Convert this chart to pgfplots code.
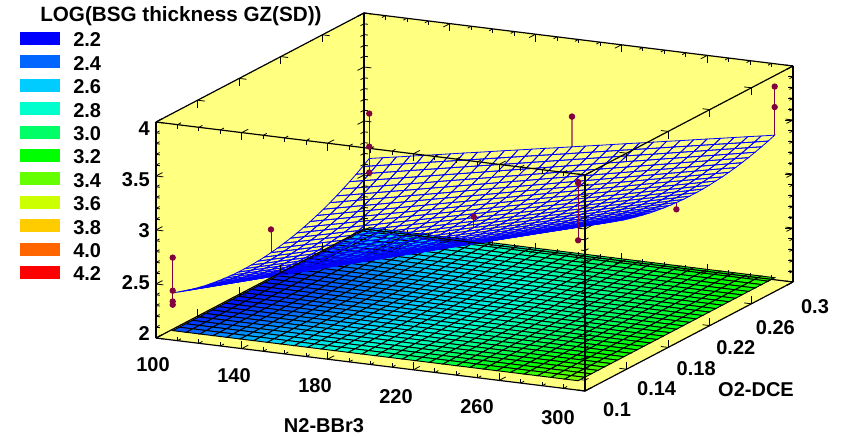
\documentclass[border=0pt]{standalone}
\usepackage{fontspec}
\setmainfont{Liberation Sans}
\usepackage{pgfplots}
\usepackage{pgfplotstable}
\pgfplotsset{compat=1.18}
\usetikzlibrary{calc}
\definecolor{wall}{RGB}{255,255,128}
\definecolor{pt}{RGB}{128,0,64}
\pgfplotstableread{
x y z
101 .114 2.350
107.3 .114 2.387
113.6 .114 2.423
119.9 .114 2.460
126.2 .114 2.497
132.5 .114 2.533
138.8 .114 2.570
145.1 .114 2.607
151.4 .114 2.643
157.7 .114 2.680
164 .114 2.717
170.3 .114 2.753
176.6 .114 2.790
182.9 .114 2.827
189.2 .114 2.863
195.5 .114 2.900
201.8 .114 2.937
208.1 .114 2.973
214.4 .114 3.010
220.7 .114 3.047
227 .114 3.083
233.3 .114 3.120
239.6 .114 3.157
245.9 .114 3.193
252.2 .114 3.230
258.5 .114 3.267
264.8 .114 3.303
271.1 .114 3.340
277.4 .114 3.377
283.7 .114 3.413
290 .114 3.450
101 .1203 2.327
107.3 .1203 2.364
113.6 .1203 2.400
119.9 .1203 2.436
126.2 .1203 2.473
132.5 .1203 2.509
138.8 .1203 2.546
145.1 .1203 2.582
151.4 .1203 2.618
157.7 .1203 2.655
164 .1203 2.691
170.3 .1203 2.727
176.6 .1203 2.764
182.9 .1203 2.800
189.2 .1203 2.836
195.5 .1203 2.873
201.8 .1203 2.909
208.1 .1203 2.946
214.4 .1203 2.982
220.7 .1203 3.018
227 .1203 3.055
233.3 .1203 3.091
239.6 .1203 3.127
245.9 .1203 3.164
252.2 .1203 3.200
258.5 .1203 3.236
264.8 .1203 3.273
271.1 .1203 3.309
277.4 .1203 3.346
283.7 .1203 3.382
290 .1203 3.418
101 .1266 2.307
107.3 .1266 2.343
113.6 .1266 2.379
119.9 .1266 2.415
126.2 .1266 2.451
132.5 .1266 2.487
138.8 .1266 2.523
145.1 .1266 2.559
151.4 .1266 2.595
157.7 .1266 2.631
164 .1266 2.668
170.3 .1266 2.704
176.6 .1266 2.740
182.9 .1266 2.776
189.2 .1266 2.812
195.5 .1266 2.848
201.8 .1266 2.884
208.1 .1266 2.920
214.4 .1266 2.956
220.7 .1266 2.992
227 .1266 3.028
233.3 .1266 3.064
239.6 .1266 3.100
245.9 .1266 3.136
252.2 .1266 3.172
258.5 .1266 3.208
264.8 .1266 3.244
271.1 .1266 3.280
277.4 .1266 3.316
283.7 .1266 3.352
290 .1266 3.388
101 .1329 2.289
107.3 .1329 2.325
113.6 .1329 2.360
119.9 .1329 2.396
126.2 .1329 2.432
132.5 .1329 2.468
138.8 .1329 2.503
145.1 .1329 2.539
151.4 .1329 2.575
157.7 .1329 2.610
164 .1329 2.646
170.3 .1329 2.682
176.6 .1329 2.718
182.9 .1329 2.753
189.2 .1329 2.789
195.5 .1329 2.825
201.8 .1329 2.861
208.1 .1329 2.896
214.4 .1329 2.932
220.7 .1329 2.968
227 .1329 3.003
233.3 .1329 3.039
239.6 .1329 3.075
245.9 .1329 3.111
252.2 .1329 3.146
258.5 .1329 3.182
264.8 .1329 3.218
271.1 .1329 3.253
277.4 .1329 3.289
283.7 .1329 3.325
290 .1329 3.361
101 .1392 2.273
107.3 .1392 2.308
113.6 .1392 2.344
119.9 .1392 2.379
126.2 .1392 2.415
132.5 .1392 2.450
138.8 .1392 2.485
145.1 .1392 2.521
151.4 .1392 2.556
157.7 .1392 2.592
164 .1392 2.627
170.3 .1392 2.662
176.6 .1392 2.698
182.9 .1392 2.733
189.2 .1392 2.768
195.5 .1392 2.804
201.8 .1392 2.839
208.1 .1392 2.875
214.4 .1392 2.910
220.7 .1392 2.945
227 .1392 2.981
233.3 .1392 3.016
239.6 .1392 3.051
245.9 .1392 3.087
252.2 .1392 3.122
258.5 .1392 3.158
264.8 .1392 3.193
271.1 .1392 3.228
277.4 .1392 3.264
283.7 .1392 3.299
290 .1392 3.335
101 .1455 2.259
107.3 .1455 2.294
113.6 .1455 2.329
119.9 .1455 2.364
126.2 .1455 2.399
132.5 .1455 2.434
138.8 .1455 2.470
145.1 .1455 2.505
151.4 .1455 2.540
157.7 .1455 2.575
164 .1455 2.610
170.3 .1455 2.645
176.6 .1455 2.680
182.9 .1455 2.715
189.2 .1455 2.750
195.5 .1455 2.785
201.8 .1455 2.820
208.1 .1455 2.855
214.4 .1455 2.890
220.7 .1455 2.925
227 .1455 2.960
233.3 .1455 2.995
239.6 .1455 3.030
245.9 .1455 3.065
252.2 .1455 3.100
258.5 .1455 3.135
264.8 .1455 3.170
271.1 .1455 3.205
277.4 .1455 3.240
283.7 .1455 3.275
290 .1455 3.310
101 .1518 2.248
107.3 .1518 2.283
113.6 .1518 2.317
119.9 .1518 2.352
126.2 .1518 2.387
132.5 .1518 2.421
138.8 .1518 2.456
145.1 .1518 2.491
151.4 .1518 2.525
157.7 .1518 2.560
164 .1518 2.595
170.3 .1518 2.629
176.6 .1518 2.664
182.9 .1518 2.699
189.2 .1518 2.733
195.5 .1518 2.768
201.8 .1518 2.803
208.1 .1518 2.837
214.4 .1518 2.872
220.7 .1518 2.907
227 .1518 2.941
233.3 .1518 2.976
239.6 .1518 3.011
245.9 .1518 3.045
252.2 .1518 3.080
258.5 .1518 3.115
264.8 .1518 3.149
271.1 .1518 3.184
277.4 .1518 3.219
283.7 .1518 3.253
290 .1518 3.288
101 .1581 2.239
107.3 .1581 2.273
113.6 .1581 2.307
119.9 .1581 2.342
126.2 .1581 2.376
132.5 .1581 2.410
138.8 .1581 2.445
145.1 .1581 2.479
151.4 .1581 2.513
157.7 .1581 2.547
164 .1581 2.582
170.3 .1581 2.616
176.6 .1581 2.650
182.9 .1581 2.685
189.2 .1581 2.719
195.5 .1581 2.753
201.8 .1581 2.787
208.1 .1581 2.822
214.4 .1581 2.856
220.7 .1581 2.890
227 .1581 2.925
233.3 .1581 2.959
239.6 .1581 2.993
245.9 .1581 3.027
252.2 .1581 3.062
258.5 .1581 3.096
264.8 .1581 3.130
271.1 .1581 3.165
277.4 .1581 3.199
283.7 .1581 3.233
290 .1581 3.267
101 .1644 2.232
107.3 .1644 2.266
113.6 .1644 2.300
119.9 .1644 2.334
126.2 .1644 2.367
132.5 .1644 2.401
138.8 .1644 2.435
145.1 .1644 2.469
151.4 .1644 2.503
157.7 .1644 2.537
164 .1644 2.571
170.3 .1644 2.605
176.6 .1644 2.639
182.9 .1644 2.673
189.2 .1644 2.707
195.5 .1644 2.740
201.8 .1644 2.774
208.1 .1644 2.808
214.4 .1644 2.842
220.7 .1644 2.876
227 .1644 2.910
233.3 .1644 2.944
239.6 .1644 2.978
245.9 .1644 3.012
252.2 .1644 3.046
258.5 .1644 3.080
264.8 .1644 3.113
271.1 .1644 3.147
277.4 .1644 3.181
283.7 .1644 3.215
290 .1644 3.249
101 .1707 2.227
107.3 .1707 2.261
113.6 .1707 2.294
119.9 .1707 2.328
126.2 .1707 2.361
132.5 .1707 2.395
138.8 .1707 2.428
145.1 .1707 2.462
151.4 .1707 2.495
157.7 .1707 2.529
164 .1707 2.562
170.3 .1707 2.596
176.6 .1707 2.629
182.9 .1707 2.663
189.2 .1707 2.696
195.5 .1707 2.730
201.8 .1707 2.763
208.1 .1707 2.797
214.4 .1707 2.830
220.7 .1707 2.864
227 .1707 2.897
233.3 .1707 2.931
239.6 .1707 2.964
245.9 .1707 2.998
252.2 .1707 3.031
258.5 .1707 3.065
264.8 .1707 3.099
271.1 .1707 3.132
277.4 .1707 3.166
283.7 .1707 3.199
290 .1707 3.233
101 .177 2.224
107.3 .177 2.258
113.6 .177 2.291
119.9 .177 2.324
126.2 .177 2.357
132.5 .177 2.390
138.8 .177 2.423
145.1 .177 2.456
151.4 .177 2.489
157.7 .177 2.522
164 .177 2.556
170.3 .177 2.589
176.6 .177 2.622
182.9 .177 2.655
189.2 .177 2.688
195.5 .177 2.721
201.8 .177 2.754
208.1 .177 2.787
214.4 .177 2.820
220.7 .177 2.853
227 .177 2.887
233.3 .177 2.920
239.6 .177 2.953
245.9 .177 2.986
252.2 .177 3.019
258.5 .177 3.052
264.8 .177 3.085
271.1 .177 3.118
277.4 .177 3.151
283.7 .177 3.185
290 .177 3.218
101 .1833 2.224
107.3 .1833 2.257
113.6 .1833 2.289
119.9 .1833 2.322
126.2 .1833 2.355
132.5 .1833 2.388
138.8 .1833 2.420
145.1 .1833 2.453
151.4 .1833 2.486
157.7 .1833 2.518
164 .1833 2.551
170.3 .1833 2.584
176.6 .1833 2.616
182.9 .1833 2.649
189.2 .1833 2.682
195.5 .1833 2.714
201.8 .1833 2.747
208.1 .1833 2.780
214.4 .1833 2.813
220.7 .1833 2.845
227 .1833 2.878
233.3 .1833 2.911
239.6 .1833 2.943
245.9 .1833 2.976
252.2 .1833 3.009
258.5 .1833 3.041
264.8 .1833 3.074
271.1 .1833 3.107
277.4 .1833 3.139
283.7 .1833 3.172
290 .1833 3.205
101 .1896 2.226
107.3 .1896 2.258
113.6 .1896 2.291
119.9 .1896 2.323
126.2 .1896 2.355
132.5 .1896 2.387
138.8 .1896 2.420
145.1 .1896 2.452
151.4 .1896 2.484
157.7 .1896 2.516
164 .1896 2.549
170.3 .1896 2.581
176.6 .1896 2.613
182.9 .1896 2.646
189.2 .1896 2.678
195.5 .1896 2.710
201.8 .1896 2.742
208.1 .1896 2.775
214.4 .1896 2.807
220.7 .1896 2.839
227 .1896 2.871
233.3 .1896 2.904
239.6 .1896 2.936
245.9 .1896 2.968
252.2 .1896 3.000
258.5 .1896 3.033
264.8 .1896 3.065
271.1 .1896 3.097
277.4 .1896 3.130
283.7 .1896 3.162
290 .1896 3.194
101 .1959 2.230
107.3 .1959 2.262
113.6 .1959 2.294
119.9 .1959 2.326
126.2 .1959 2.357
132.5 .1959 2.389
138.8 .1959 2.421
145.1 .1959 2.453
151.4 .1959 2.485
157.7 .1959 2.517
164 .1959 2.548
170.3 .1959 2.580
176.6 .1959 2.612
182.9 .1959 2.644
189.2 .1959 2.676
195.5 .1959 2.708
201.8 .1959 2.739
208.1 .1959 2.771
214.4 .1959 2.803
220.7 .1959 2.835
227 .1959 2.867
233.3 .1959 2.899
239.6 .1959 2.930
245.9 .1959 2.962
252.2 .1959 2.994
258.5 .1959 3.026
264.8 .1959 3.058
271.1 .1959 3.090
277.4 .1959 3.121
283.7 .1959 3.153
290 .1959 3.185
101 .2022 2.236
107.3 .2022 2.268
113.6 .2022 2.299
119.9 .2022 2.331
126.2 .2022 2.362
132.5 .2022 2.393
138.8 .2022 2.425
145.1 .2022 2.456
151.4 .2022 2.487
157.7 .2022 2.519
164 .2022 2.550
170.3 .2022 2.581
176.6 .2022 2.613
182.9 .2022 2.644
189.2 .2022 2.676
195.5 .2022 2.707
201.8 .2022 2.738
208.1 .2022 2.770
214.4 .2022 2.801
220.7 .2022 2.832
227 .2022 2.864
233.3 .2022 2.895
239.6 .2022 2.927
245.9 .2022 2.958
252.2 .2022 2.989
258.5 .2022 3.021
264.8 .2022 3.052
271.1 .2022 3.083
277.4 .2022 3.115
283.7 .2022 3.146
290 .2022 3.178
101 .2085 2.245
107.3 .2085 2.276
113.6 .2085 2.307
119.9 .2085 2.338
126.2 .2085 2.369
132.5 .2085 2.400
138.8 .2085 2.431
145.1 .2085 2.461
151.4 .2085 2.492
157.7 .2085 2.523
164 .2085 2.554
170.3 .2085 2.585
176.6 .2085 2.616
182.9 .2085 2.647
189.2 .2085 2.678
195.5 .2085 2.709
201.8 .2085 2.740
208.1 .2085 2.771
214.4 .2085 2.802
220.7 .2085 2.832
227 .2085 2.863
233.3 .2085 2.894
239.6 .2085 2.925
245.9 .2085 2.956
252.2 .2085 2.987
258.5 .2085 3.018
264.8 .2085 3.049
271.1 .2085 3.080
277.4 .2085 3.111
283.7 .2085 3.142
290 .2085 3.173
101 .2148 2.256
107.3 .2148 2.286
113.6 .2148 2.317
119.9 .2148 2.347
126.2 .2148 2.378
132.5 .2148 2.408
138.8 .2148 2.438
145.1 .2148 2.469
151.4 .2148 2.499
157.7 .2148 2.530
164 .2148 2.560
170.3 .2148 2.591
176.6 .2148 2.621
182.9 .2148 2.652
189.2 .2148 2.682
195.5 .2148 2.712
201.8 .2148 2.743
208.1 .2148 2.773
214.4 .2148 2.804
220.7 .2148 2.834
227 .2148 2.865
233.3 .2148 2.895
239.6 .2148 2.925
245.9 .2148 2.956
252.2 .2148 2.986
258.5 .2148 3.017
264.8 .2148 3.047
271.1 .2148 3.078
277.4 .2148 3.108
283.7 .2148 3.139
290 .2148 3.169
101 .2211 2.269
107.3 .2211 2.299
113.6 .2211 2.329
119.9 .2211 2.359
126.2 .2211 2.389
132.5 .2211 2.419
138.8 .2211 2.449
145.1 .2211 2.479
151.4 .2211 2.508
157.7 .2211 2.538
164 .2211 2.568
170.3 .2211 2.598
176.6 .2211 2.628
182.9 .2211 2.658
189.2 .2211 2.688
195.5 .2211 2.718
201.8 .2211 2.748
208.1 .2211 2.778
214.4 .2211 2.808
220.7 .2211 2.838
227 .2211 2.868
233.3 .2211 2.898
239.6 .2211 2.928
245.9 .2211 2.958
252.2 .2211 2.988
258.5 .2211 3.018
264.8 .2211 3.048
271.1 .2211 3.078
277.4 .2211 3.108
283.7 .2211 3.138
290 .2211 3.168
101 .2274 2.284
107.3 .2274 2.313
113.6 .2274 2.343
119.9 .2274 2.372
126.2 .2274 2.402
132.5 .2274 2.431
138.8 .2274 2.461
145.1 .2274 2.490
151.4 .2274 2.520
157.7 .2274 2.549
164 .2274 2.579
170.3 .2274 2.608
176.6 .2274 2.638
182.9 .2274 2.667
189.2 .2274 2.697
195.5 .2274 2.726
201.8 .2274 2.756
208.1 .2274 2.785
214.4 .2274 2.814
220.7 .2274 2.844
227 .2274 2.873
233.3 .2274 2.903
239.6 .2274 2.932
245.9 .2274 2.962
252.2 .2274 2.991
258.5 .2274 3.021
264.8 .2274 3.050
271.1 .2274 3.080
277.4 .2274 3.109
283.7 .2274 3.139
290 .2274 3.168
101 .2337 2.301
107.3 .2337 2.330
113.6 .2337 2.359
119.9 .2337 2.388
126.2 .2337 2.417
132.5 .2337 2.446
138.8 .2337 2.475
145.1 .2337 2.504
151.4 .2337 2.533
157.7 .2337 2.562
164 .2337 2.591
170.3 .2337 2.620
176.6 .2337 2.649
182.9 .2337 2.678
189.2 .2337 2.707
195.5 .2337 2.736
201.8 .2337 2.765
208.1 .2337 2.794
214.4 .2337 2.823
220.7 .2337 2.852
227 .2337 2.881
233.3 .2337 2.910
239.6 .2337 2.939
245.9 .2337 2.967
252.2 .2337 2.996
258.5 .2337 3.025
264.8 .2337 3.054
271.1 .2337 3.083
277.4 .2337 3.112
283.7 .2337 3.141
290 .2337 3.170
101 .24 2.321
107.3 .24 2.350
113.6 .24 2.378
119.9 .24 2.406
126.2 .24 2.435
132.5 .24 2.463
138.8 .24 2.492
145.1 .24 2.520
151.4 .24 2.549
157.7 .24 2.577
164 .24 2.606
170.3 .24 2.634
176.6 .24 2.662
182.9 .24 2.691
189.2 .24 2.719
195.5 .24 2.748
201.8 .24 2.776
208.1 .24 2.805
214.4 .24 2.833
220.7 .24 2.861
227 .24 2.890
233.3 .24 2.918
239.6 .24 2.947
245.9 .24 2.975
252.2 .24 3.004
258.5 .24 3.032
264.8 .24 3.061
271.1 .24 3.089
277.4 .24 3.117
283.7 .24 3.146
290 .24 3.174
101 .2463 2.343
107.3 .2463 2.371
113.6 .2463 2.399
119.9 .2463 2.427
126.2 .2463 2.455
132.5 .2463 2.483
138.8 .2463 2.511
145.1 .2463 2.538
151.4 .2463 2.566
157.7 .2463 2.594
164 .2463 2.622
170.3 .2463 2.650
176.6 .2463 2.678
182.9 .2463 2.706
189.2 .2463 2.734
195.5 .2463 2.762
201.8 .2463 2.790
208.1 .2463 2.818
214.4 .2463 2.846
220.7 .2463 2.873
227 .2463 2.901
233.3 .2463 2.929
239.6 .2463 2.957
245.9 .2463 2.985
252.2 .2463 3.013
258.5 .2463 3.041
264.8 .2463 3.069
271.1 .2463 3.097
277.4 .2463 3.125
283.7 .2463 3.153
290 .2463 3.181
101 .2526 2.367
107.3 .2526 2.394
113.6 .2526 2.422
119.9 .2526 2.449
126.2 .2526 2.477
132.5 .2526 2.504
138.8 .2526 2.531
145.1 .2526 2.559
151.4 .2526 2.586
157.7 .2526 2.614
164 .2526 2.641
170.3 .2526 2.668
176.6 .2526 2.696
182.9 .2526 2.723
189.2 .2526 2.750
195.5 .2526 2.778
201.8 .2526 2.805
208.1 .2526 2.833
214.4 .2526 2.860
220.7 .2526 2.887
227 .2526 2.915
233.3 .2526 2.942
239.6 .2526 2.969
245.9 .2526 2.997
252.2 .2526 3.024
258.5 .2526 3.052
264.8 .2526 3.079
271.1 .2526 3.106
277.4 .2526 3.134
283.7 .2526 3.161
290 .2526 3.188
101 .2589 2.393
107.3 .2589 2.420
113.6 .2589 2.447
119.9 .2589 2.474
126.2 .2589 2.501
132.5 .2589 2.528
138.8 .2589 2.554
145.1 .2589 2.581
151.4 .2589 2.608
157.7 .2589 2.635
164 .2589 2.662
170.3 .2589 2.688
176.6 .2589 2.715
182.9 .2589 2.742
189.2 .2589 2.769
195.5 .2589 2.796
201.8 .2589 2.822
208.1 .2589 2.849
214.4 .2589 2.876
220.7 .2589 2.903
227 .2589 2.930
233.3 .2589 2.957
239.6 .2589 2.983
245.9 .2589 3.010
252.2 .2589 3.037
258.5 .2589 3.064
264.8 .2589 3.091
271.1 .2589 3.117
277.4 .2589 3.144
283.7 .2589 3.171
290 .2589 3.198
101 .2652 2.422
107.3 .2652 2.448
113.6 .2652 2.475
119.9 .2652 2.501
126.2 .2652 2.527
132.5 .2652 2.553
138.8 .2652 2.580
145.1 .2652 2.606
151.4 .2652 2.632
157.7 .2652 2.658
164 .2652 2.685
170.3 .2652 2.711
176.6 .2652 2.737
182.9 .2652 2.764
189.2 .2652 2.790
195.5 .2652 2.816
201.8 .2652 2.842
208.1 .2652 2.869
214.4 .2652 2.895
220.7 .2652 2.921
227 .2652 2.947
233.3 .2652 2.974
239.6 .2652 3.000
245.9 .2652 3.026
252.2 .2652 3.052
258.5 .2652 3.079
264.8 .2652 3.105
271.1 .2652 3.131
277.4 .2652 3.158
283.7 .2652 3.184
290 .2652 3.210
101 .2715 2.453
107.3 .2715 2.478
113.6 .2715 2.504
119.9 .2715 2.530
126.2 .2715 2.556
132.5 .2715 2.581
138.8 .2715 2.607
145.1 .2715 2.633
151.4 .2715 2.658
157.7 .2715 2.684
164 .2715 2.710
170.3 .2715 2.735
176.6 .2715 2.761
182.9 .2715 2.787
189.2 .2715 2.812
195.5 .2715 2.838
201.8 .2715 2.864
208.1 .2715 2.890
214.4 .2715 2.915
220.7 .2715 2.941
227 .2715 2.967
233.3 .2715 2.992
239.6 .2715 3.018
245.9 .2715 3.044
252.2 .2715 3.069
258.5 .2715 3.095
264.8 .2715 3.121
271.1 .2715 3.146
277.4 .2715 3.172
283.7 .2715 3.198
290 .2715 3.224
101 .2778 2.486
107.3 .2778 2.511
113.6 .2778 2.536
119.9 .2778 2.561
126.2 .2778 2.586
132.5 .2778 2.611
138.8 .2778 2.636
145.1 .2778 2.662
151.4 .2778 2.687
157.7 .2778 2.712
164 .2778 2.737
170.3 .2778 2.762
176.6 .2778 2.787
182.9 .2778 2.812
189.2 .2778 2.837
195.5 .2778 2.862
201.8 .2778 2.888
208.1 .2778 2.913
214.4 .2778 2.938
220.7 .2778 2.963
227 .2778 2.988
233.3 .2778 3.013
239.6 .2778 3.038
245.9 .2778 3.063
252.2 .2778 3.088
258.5 .2778 3.114
264.8 .2778 3.139
271.1 .2778 3.164
277.4 .2778 3.189
283.7 .2778 3.214
290 .2778 3.239
101 .2841 2.521
107.3 .2841 2.546
113.6 .2841 2.570
119.9 .2841 2.595
126.2 .2841 2.619
132.5 .2841 2.644
138.8 .2841 2.668
145.1 .2841 2.693
151.4 .2841 2.717
157.7 .2841 2.742
164 .2841 2.766
170.3 .2841 2.791
176.6 .2841 2.815
182.9 .2841 2.840
189.2 .2841 2.864
195.5 .2841 2.889
201.8 .2841 2.913
208.1 .2841 2.938
214.4 .2841 2.962
220.7 .2841 2.987
227 .2841 3.011
233.3 .2841 3.036
239.6 .2841 3.060
245.9 .2841 3.085
252.2 .2841 3.109
258.5 .2841 3.134
264.8 .2841 3.159
271.1 .2841 3.183
277.4 .2841 3.208
283.7 .2841 3.232
290 .2841 3.257
101 .2904 2.558
107.3 .2904 2.582
113.6 .2904 2.606
119.9 .2904 2.630
126.2 .2904 2.654
132.5 .2904 2.678
138.8 .2904 2.702
145.1 .2904 2.726
151.4 .2904 2.750
157.7 .2904 2.774
164 .2904 2.798
170.3 .2904 2.821
176.6 .2904 2.845
182.9 .2904 2.869
189.2 .2904 2.893
195.5 .2904 2.917
201.8 .2904 2.941
208.1 .2904 2.965
214.4 .2904 2.989
220.7 .2904 3.013
227 .2904 3.037
233.3 .2904 3.061
239.6 .2904 3.084
245.9 .2904 3.108
252.2 .2904 3.132
258.5 .2904 3.156
264.8 .2904 3.180
271.1 .2904 3.204
277.4 .2904 3.228
283.7 .2904 3.252
290 .2904 3.276
101 .2967 2.598
107.3 .2967 2.621
113.6 .2967 2.645
119.9 .2967 2.668
126.2 .2967 2.691
132.5 .2967 2.715
138.8 .2967 2.738
145.1 .2967 2.761
151.4 .2967 2.784
157.7 .2967 2.808
164 .2967 2.831
170.3 .2967 2.854
176.6 .2967 2.878
182.9 .2967 2.901
189.2 .2967 2.924
195.5 .2967 2.947
201.8 .2967 2.971
208.1 .2967 2.994
214.4 .2967 3.017
220.7 .2967 3.041
227 .2967 3.064
233.3 .2967 3.087
239.6 .2967 3.110
245.9 .2967 3.134
252.2 .2967 3.157
258.5 .2967 3.180
264.8 .2967 3.204
271.1 .2967 3.227
277.4 .2967 3.250
283.7 .2967 3.273
290 .2967 3.297
101 .303 2.640
107.3 .303 2.663
113.6 .303 2.685
119.9 .303 2.708
126.2 .303 2.731
132.5 .303 2.753
138.8 .303 2.776
145.1 .303 2.799
151.4 .303 2.821
157.7 .303 2.844
164 .303 2.867
170.3 .303 2.889
176.6 .303 2.912
182.9 .303 2.935
189.2 .303 2.957
195.5 .303 2.980
201.8 .303 3.003
208.1 .303 3.025
214.4 .303 3.048
220.7 .303 3.071
227 .303 3.093
233.3 .303 3.116
239.6 .303 3.139
245.9 .303 3.161
252.2 .303 3.184
258.5 .303 3.207
264.8 .303 3.229
271.1 .303 3.252
277.4 .303 3.275
283.7 .303 3.297
290 .303 3.320
}\surfdata
\begin{document}
\begin{tikzpicture}
\begin{axis}[
 x={(1.60875pt,-0.19875pt)}, y={(780pt,408.75pt)}, z={(0pt,81pt)},
 xmin=100,xmax=300,ymin=0.1,ymax=0.3,zmin=2,zmax=4,
 clip=false, axis on top,
 3d box=complete*,
 axis line style={line width=0.9pt,black},
 xtick={100,140,180,220,260,300}, xticklabels={100,140,180,220,260,300},
 ytick={0.1,0.14,0.18,0.22,0.26,0.3}, yticklabels={0.1,0.14,0.18,0.22,0.26,0.3},
 ztick={2,2.5,3,3.5,4}, zticklabels={2,2.5,3,3.5,4},
 minor x tick num=3, minor y tick num=0, minor z tick num=4,
 tick align=inside, major tick length=5.5pt, minor tick length=3pt,
 tick style={black,line width=0.6pt},
 font=\bfseries\fontsize{15}{17}\selectfont,
 xticklabel style={anchor=center,xshift={(-2.25-3.6*\ticknum)*1pt},yshift=-20pt},
 yticklabel style={anchor=center,xshift={(24-1.5*\ticknum)*1pt},yshift={(-14-0.9*\ticknum)*1pt}},
 zticklabel style={anchor=east,inner sep=0pt,xshift=-4.5pt,yshift={(3-1.9*\ticknum)*1pt}},
 xlabel={N2-BBr3}, ylabel={O2-DCE},
 every axis x label/.style={at={(rel axis cs:0,0,0)},xshift=126pt,yshift=-66pt,anchor=center},
 every axis y label/.style={at={(rel axis cs:0,0,0)},xshift=450pt,yshift=-39pt,anchor=center},
 colormap={sg}{rgb255=(0,0,255) rgb255=(0,102,255) rgb255=(0,204,255) rgb255=(0,255,204) rgb255=(0,255,102) rgb255=(0,255,0) rgb255=(102,255,0) rgb255=(204,255,0) rgb255=(255,204,0) rgb255=(255,102,0) rgb255=(255,0,0)},
 point meta min=2.2, point meta max=4.2,
]
\coordinate (A) at (axis cs:100,0.1,2);
\fill[wall] (axis cs:100,0.1,2) -- (axis cs:100,0.1,4) -- (axis cs:100,0.3,4) -- (axis cs:300,0.3,4) -- (axis cs:300,0.3,2) -- (axis cs:300,0.1,2) -- cycle;
\pgfplotsinvokeforeach{2.5,3,3.5}{\draw[black,line width=0.6pt] (axis cs:300,0.3,#1) -- ++(-6pt,0pt);}
\pgfplotsinvokeforeach{2.1,2.2,2.3,2.4,2.6,2.7,2.8,2.9,3.1,3.2,3.3,3.4,3.6,3.7,3.8,3.9}{\draw[black,line width=0.6pt] (axis cs:300,0.3,#1) -- ++(-3.5pt,0pt);}
\addplot3[surf,shader=faceted,faceted color=black,line width=0.7pt,mesh/cols=31,point meta=\thisrow{z}] table[x=x,y=y,z expr=2] {\surfdata};
\addplot3[pt,mark=*,mark size=2pt,line width=0.7pt,mark indices={1}] coordinates {(195.5,.2085,2.81)(195.5,.2085,2.709)};
\addplot3[pt,no marks,line width=0.7pt] coordinates {(195.5,.114,3.01)(195.5,.114,2.90)};
\addplot3[pt!60!wall,line width=0.8pt,mark=*,mark size=2pt,mark options={pt},mark indices={1}] coordinates {(195.5,.303,3.26)(195.5,.303,2.98)};
\addplot3[mesh,draw=blue,line width=0.6pt,mesh/cols=31,point meta=\thisrow{z}] table[x=x,y=y,z=z] {\surfdata};
\addplot3[pt,mark=*,mark size=2pt,line width=0.7pt] coordinates {(101,.114,2.676)(101,.114,2.37)(101,.114,2.27)(101,.114,2.24)};
\addplot3[pt,mark=*,mark size=2pt,line width=0.7pt,mark indices={1}] coordinates {(101,.2085,2.46)(101,.2085,2.245)};
\addplot3[pt,mark=*,mark size=2pt,line width=0.7pt] coordinates {(101,.303,3.056)(101,.303,2.75)(101,.303,2.51)};
\addplot3[pt,mark=*,mark size=2pt,line width=0.7pt,mark indices={1,2}] coordinates {(290,.303,3.77)(290,.303,3.58)(290,.303,3.32)};
\addplot3[pt,mark=*,mark size=2pt,line width=0.7pt] coordinates {(290,.114,3.84)(290,.114,3.83)(290,.114,3.30)};
\addplot3[pt,mark=*,mark size=2pt,line width=0.7pt,mark indices={1}] coordinates {(290,.2085,3.11)(290,.2085,3.173)};
\end{axis}
\pgfresetboundingbox
\coordinate (O) at ($(A)+(-117pt,253.5pt)$);
\path[use as bounding box] (O) rectangle ($(O)+(631.5pt,-327pt)$);
\begin{scope}[shift={(O)},x=0.75pt,y=-0.75pt,font=\bfseries\fontsize{15}{17}\selectfont]
\node[anchor=west,inner sep=0pt] at (40,16) {\fontsize{15.5}{17}\selectfont LOG(BSG thickness GZ(SD))};
\foreach \c/\t [count=\n from 0] in {{0,0,255}/2.2,{0,102,255}/2.4,{0,204,255}/2.6,{0,255,204}/2.8,{0,255,102}/3.0,{0,255,0}/3.2,{102,255,0}/3.4,{204,255,0}/3.6,{255,204,0}/3.8,{255,102,0}/4.0,{255,0,0}/4.2}{
 \definecolor{lc}{RGB}{\c}
 \fill[lc] (20,{32+23.4*\n}) rectangle (60,{45+23.4*\n});
 \node[anchor=west,inner sep=0pt] at (73,{40+23.4*\n}) {\t};
}
\end{scope}
\end{tikzpicture}
\end{document}
